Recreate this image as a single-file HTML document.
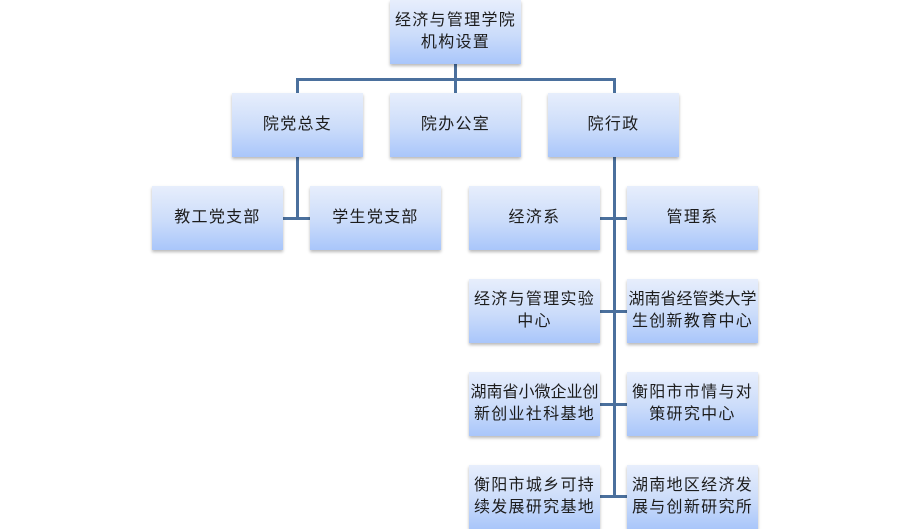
<!DOCTYPE html>
<html>
<head>
<meta charset="utf-8">
<style>
html,body{margin:0;padding:0;background:#fff;}
body{width:911px;height:529px;position:relative;overflow:hidden;
font-family:"Liberation Sans","Noto Sans CJK SC","WenQuanYi Zen Hei",sans-serif;}
.b{position:absolute;width:131px;height:64px;
background:linear-gradient(to bottom,#e7eefc 0%,#cbdcfa 55%,#a9c6fa 100%);
box-shadow:0 2px 3px rgba(0,0,0,0.28);
display:flex;align-items:center;justify-content:center;text-align:center;
font-size:16px;line-height:22px;color:#1c1c1c;letter-spacing:1.3px;}
.b span{display:block;}
.t{letter-spacing:0;}
.l{position:absolute;background:#4b709d;}
</style>
</head>
<body>
<!-- connectors -->
<div class="l" style="left:454px;top:64px;width:3px;height:29px;"></div>
<div class="l" style="left:296px;top:78px;width:320px;height:3px;"></div>
<div class="l" style="left:296px;top:78px;width:3px;height:15px;"></div>
<div class="l" style="left:454px;top:78px;width:3px;height:15px;"></div>
<div class="l" style="left:613px;top:78px;width:3px;height:15px;"></div>

<div class="l" style="left:296px;top:157px;width:3px;height:63px;"></div>
<div class="l" style="left:283px;top:217px;width:27px;height:3px;"></div>

<div class="l" style="left:613px;top:157px;width:3px;height:341px;"></div>
<div class="l" style="left:600px;top:217px;width:27px;height:3px;"></div>
<div class="l" style="left:600px;top:310px;width:27px;height:3px;"></div>
<div class="l" style="left:600px;top:403px;width:27px;height:3px;"></div>
<div class="l" style="left:600px;top:495px;width:27px;height:3px;"></div>

<!-- boxes -->
<div class="b" style="left:390px;top:0px;"><div><span>经济与管理学院</span><span>机构设置</span></div></div>

<div class="b" style="left:232px;top:93px;">院党总支</div>
<div class="b" style="left:390px;top:93px;">院办公室</div>
<div class="b" style="left:548px;top:93px;">院行政</div>

<div class="b" style="left:152px;top:186px;">教工党支部</div>
<div class="b" style="left:310px;top:186px;">学生党支部</div>
<div class="b" style="left:469px;top:186px;">经济系</div>
<div class="b" style="left:627px;top:186px;">管理系</div>

<div class="b" style="left:469px;top:279px;"><div><span>经济与管理实验</span><span>中心</span></div></div>
<div class="b" style="left:627px;top:279px;"><div class="t"><span>湖南省经管类大学</span><span style="letter-spacing:1.3px">生创新教育中心</span></div></div>

<div class="b" style="left:469px;top:372px;"><div class="t"><span>湖南省小微企业创</span><span style="letter-spacing:1.3px">新创业社科基地</span></div></div>
<div class="b" style="left:627px;top:372px;"><div><span>衡阳市市情与对</span><span>策研究中心</span></div></div>

<div class="b" style="left:469px;top:465px;"><div><span>衡阳市城乡可持</span><span>续发展研究基地</span></div></div>
<div class="b" style="left:627px;top:465px;"><div><span>湖南地区经济发</span><span>展与创新研究所</span></div></div>
</body>
</html>
